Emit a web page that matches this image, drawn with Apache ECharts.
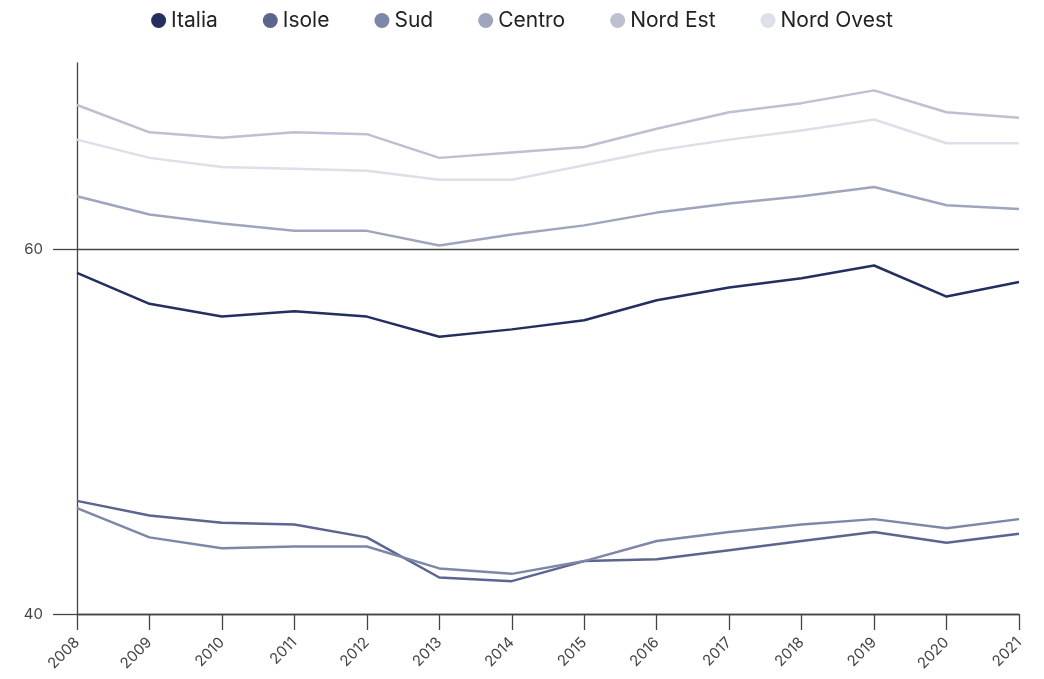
<!DOCTYPE html>
<html>
<head>
<meta charset="utf-8">
<script src="https://cdn.jsdelivr.net/npm/echarts@6/dist/echarts.min.js"></script>
<style>
    html, body { margin: 0; padding: 0; background: #fff; }
    #chart { width: 1044px; height: 679px; }
</style>
</head>
<body>
<div id="chart"></div>
<script>
var anni = ['2008', '2009', '2010', '2011', '2012', '2013', '2014', '2015', '2016', '2017', '2018', '2019', '2020', '2021'];
var italia = [58.7, 57.0, 56.3, 56.6, 56.3, 55.2, 55.6, 56.1, 57.2, 57.9, 58.4, 59.1, 57.4, 58.2];
var isole = [46.2, 45.4, 45.0, 44.9, 44.2, 42.0, 41.8, 42.9, 43.0, 43.5, 44.0, 44.5, 43.9, 44.4];
var sud = [45.8, 44.2, 43.6, 43.7, 43.7, 42.5, 42.2, 42.9, 44.0, 44.5, 44.9, 45.2, 44.7, 45.2];
var centro = [62.9, 61.9, 61.4, 61.0, 61.0, 60.2, 60.8, 61.3, 62.0, 62.5, 62.9, 63.4, 62.4, 62.2];
var nordEst = [67.9, 66.4, 66.1, 66.4, 66.3, 65.0, 65.3, 65.6, 66.6, 67.5, 68.0, 68.7, 67.5, 67.2];
var nordOvest = [66.0, 65.0, 64.5, 64.4, 64.3, 63.8, 63.8, 64.6, 65.4, 66.0, 66.5, 67.1, 65.8, 65.8];
var yTicks = [40, 60];

var colori = ['#232f5f', '#5b6590', '#7d87a8', '#9fa5bf', '#bcc0d1', '#dddfe9'];

var myChart = echarts.init(document.getElementById('chart'));

function serie(nome, dati) {
    return {
        name: nome,
        type: 'line',
        data: dati,
        symbol: 'none',
        lineStyle: { width: 2.5 }
    };
}

var option = {
    color: colori,
    textStyle: { fontFamily: 'Inter' },
    legend: {
        top: 5,
        left: 'center',
        icon: 'circle',
        itemWidth: 15,
        itemHeight: 15,
        itemGap: 45,
        textStyle: { fontSize: 21, color: '#222', fontFamily: 'Inter' }
    },
    grid: [
        { left: 77, right: 25, top: 63, bottom: 65 },
        // griglia solo per i tick a 40 e 60
        { left: 77, right: 25, top: 249, bottom: 65 }
    ],
    xAxis: [
        {
            type: 'category',
            data: anni,
            boundaryGap: false,
            axisLine: { lineStyle: { color: '#444', width: 1.3 } },
            axisTick: { length: 16, lineStyle: { color: '#444', width: 1.3 } },
            axisLabel: {
                rotate: 45,
                color: '#444',
                fontSize: 15,
                margin: 26,
                fontFamily: 'Inter'
            }
        },
        { gridIndex: 1, type: 'category', data: anni, show: false }
    ],
    yAxis: [
        {
            type: 'value',
            min: 40,
            max: 70.2,
            interval: 20,
            axisLine: { show: true, lineStyle: { color: '#444', width: 1.3 } },
            axisTick: { show: false },
            axisLabel: { color: '#444', fontSize: 15, margin: 34, customValues: yTicks, fontFamily: 'Inter' },
            splitLine: {
                show: true,
                lineStyle: { color: ['#444', '#444', 'rgba(0,0,0,0)'], width: 1.3 }
            }
        },
        {
            gridIndex: 1,
            type: 'value',
            min: yTicks[0],
            max: yTicks[1],
            interval: 20,
            axisLine: { show: false },
            axisTick: { show: true, length: 24, lineStyle: { color: '#444', width: 1.3 } },
            axisLabel: { show: false },
            splitLine: { show: false }
        }
    ],
    series: [
        serie('Italia', italia),
        serie('Isole', isole),
        serie('Sud', sud),
        serie('Centro', centro),
        serie('Nord Est', nordEst),
        serie('Nord Ovest', nordOvest)
    ]
};
myChart.setOption(option);
</script>
</body>
</html>
